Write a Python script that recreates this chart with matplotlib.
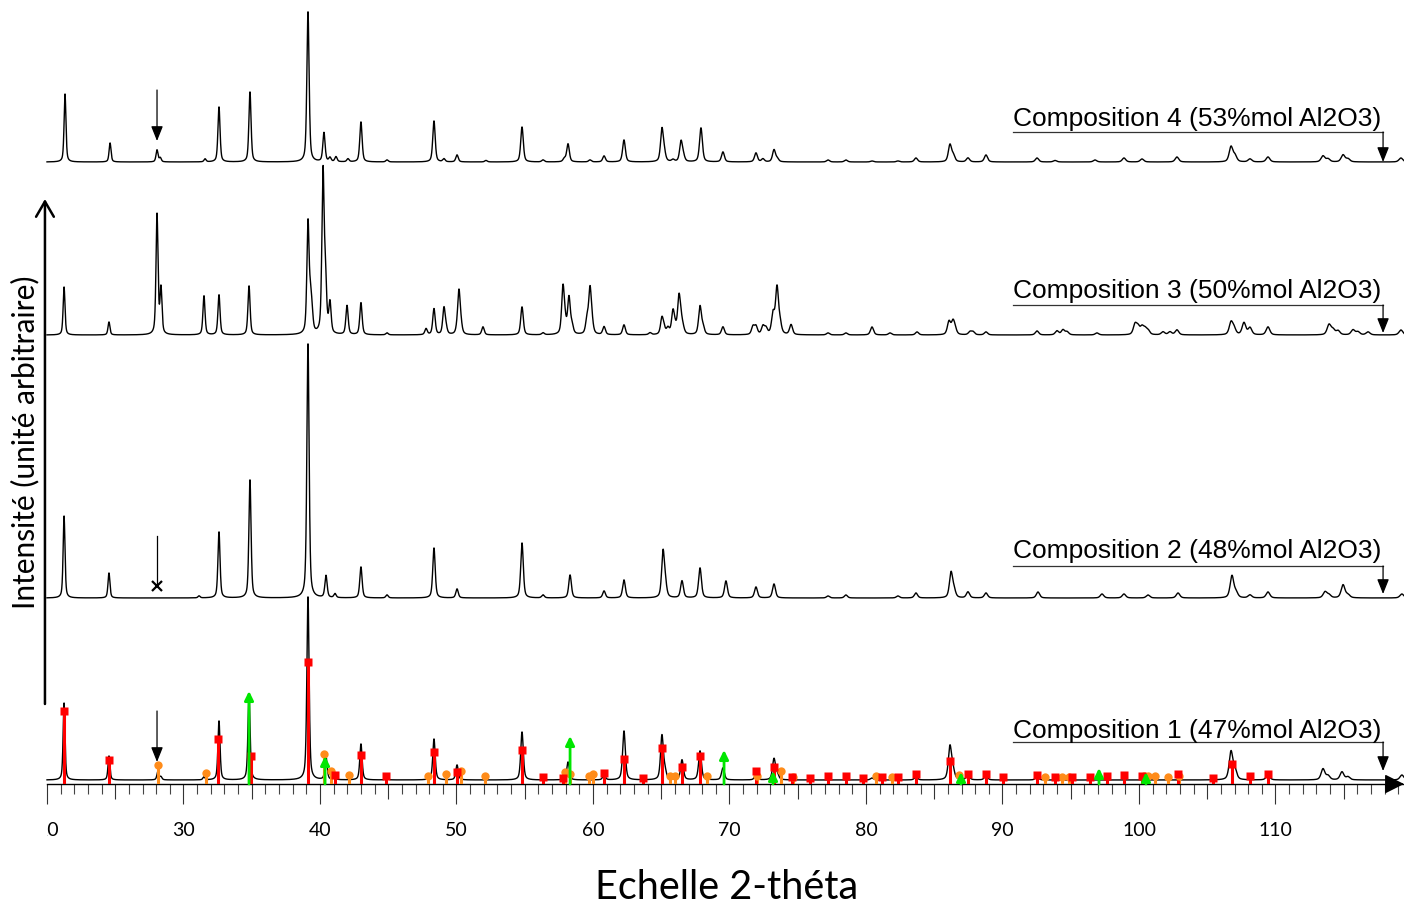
import numpy as np
import matplotlib
matplotlib.use("Agg")
import matplotlib.pyplot as plt
from matplotlib.ticker import MultipleLocator
from matplotlib.transforms import Bbox, TransformedBbox

c1_theta = [21.25, 24.54, 28.13, 28.35, 31.50, 32.60, 34.80, 39.12, 40.44, 41.10,
            43.00, 44.91, 48.35, 50.04, 54.80, 58.17, 60.81, 62.27, 65.05, 65.27,
            66.52, 67.84, 69.52, 71.94, 73.26, 73.50, 80.44, 83.66, 86.15, 86.37,
            87.47, 88.79, 92.53, 106.74, 107.03, 109.45, 113.48, 113.85, 114.87,
            115.31, 119.26]
c1_height = [77, 24, 9, 3, 3, 59, 86, 183, 23, 3,
             36, 2, 41, 15, 48, 18, 5, 49, 44, 8,
             20, 29, 12, 5, 21, 5, 2, 3, 33, 9,
             5, 4, 3, 28, 9, 5, 11, 4, 8,
             3, 5]

c2_theta = [21.25, 24.54, 31.14, 32.60, 34.87, 39.12, 40.44, 41.10, 43.00, 44.91,
            48.35, 50.04, 54.80, 56.34, 58.32, 60.81, 62.27, 65.13, 65.30, 66.52,
            67.84, 69.74, 71.94, 73.26, 77.22, 78.53, 82.34, 83.66, 86.23, 86.45,
            87.47, 88.79, 92.60, 97.29, 98.90, 100.66, 102.86, 106.81, 107.11,
            108.13, 109.45, 113.63, 113.92, 114.95, 115.31, 119.26]
c2_height = [82, 25, 2, 66, 118, 254, 22, 4, 31, 3,
             50, 9, 55, 3, 23, 7, 18, 45, 12, 17,
             30, 17, 11, 14, 2, 3, 2, 5, 25, 7,
             6, 5, 6, 4, 4, 3, 5, 22, 5,
             3, 6, 6, 3, 13, 3, 4]

c3_theta = [21.25, 24.54, 28.06, 28.35, 31.50, 32.60, 34.80, 39.12, 39.30, 39.41,
            40.22, 40.40, 40.73, 41.98, 43.00, 44.91, 47.77, 48.35, 49.08, 49.23,
            50.04, 50.18, 50.33, 51.94, 54.80, 56.34, 57.80, 57.95, 58.24, 58.46,
            59.56, 59.78, 59.93, 60.81, 62.27, 64.18, 65.05, 65.20, 65.49, 65.86,
            66.01, 66.30, 66.45, 66.59, 67.84, 68.06, 69.52, 71.72, 71.94, 72.45,
            72.67, 73.19, 73.48, 73.70, 74.51, 77.22, 78.53, 80.44, 81.76, 83.74,
            86.08, 86.37, 86.52, 87.62, 87.84, 88.79, 92.53, 93.99, 94.43, 94.73,
            96.92, 99.71, 99.93, 100.22, 100.44, 100.66, 101.76, 102.27, 102.78,
            106.74, 106.96, 107.69, 108.13, 109.45, 113.92, 114.21, 114.58,
            115.68, 116.04, 116.78, 119.19]
c3_height = [48, 13, 120, 45, 39, 40, 49, 110, 28, 16,
             160, 50, 30, 29, 32, 2, 6, 26, 26, 6,
             4, 42, 8, 8, 28, 2, 46, 10, 36, 8,
             14, 44, 9, 8, 10, 2, 16, 5, 6, 22,
             5, 36, 10, 5, 28, 7, 8, 8, 8, 8,
             6, 20, 46, 10, 10, 2, 2, 8, 2, 3,
             13, 12, 5, 3, 3, 3, 4, 4, 5, 3,
             2, 10, 7, 7, 5, 4, 3, 3, 5,
             12, 6, 12, 7, 8, 10, 5, 4,
             5, 3, 3, 5]

c4_theta = [21.32, 24.62, 28.06, 28.30, 31.58, 32.60, 34.87, 39.12, 40.29, 40.73,
            41.17, 42.05, 43.00, 44.91, 48.35, 49.08, 50.04, 52.16, 54.80, 56.34,
            57.90, 58.17, 59.78, 60.81, 62.27, 65.05, 65.22, 65.86, 66.45, 66.62,
            67.91, 69.52, 71.94, 72.45, 73.26, 73.50, 77.22, 78.53, 80.44, 82.34,
            83.66, 86.15, 86.40, 87.47, 88.79, 92.53, 93.85, 96.78, 98.90, 100.22,
            102.78, 106.74, 107.03, 108.13, 109.45, 113.48, 113.85, 114.95, 115.31,
            119.19]
c4_height = [68, 19, 12, 4, 3, 55, 70, 150, 29, 4,
             5, 3, 40, 2, 41, 3, 7, 1.5, 35, 2,
             3, 18, 2, 6, 22, 32, 8, 2, 20, 5,
             34, 10, 9, 3, 12, 3, 2, 2, 1, 1,
             4, 17, 6, 4, 7, 4, 1.5, 2, 4, 3,
             5, 15, 6, 3, 5, 6, 3, 7, 3,
             4]

offsets = [4, 186, 449, 622]
labels = ['Composition 1 (47%mol Al2O3)', 'Composition 2 (48%mol Al2O3)',
          'Composition 3 (50%mol Al2O3)', 'Composition 4 (53%mol Al2O3)']

# reference lines drawn under composition 1
red_theta = [21.25, 24.54, 32.55, 34.95, 39.12, 41.07, 43.00, 44.84, 48.35, 50.04,
             54.80, 56.34, 57.80, 60.81, 62.27, 63.66, 65.05, 66.52, 67.84, 71.94,
             73.26, 74.58, 75.90, 77.22, 78.53, 79.78, 81.17, 82.34, 83.66, 86.15,
             87.47, 88.79, 90.04, 92.53, 93.85, 95.09, 96.41, 97.66, 98.90, 100.22,
             102.86, 105.42, 106.81, 108.13, 109.45]
red_y = [73, 24, 45, 28, 122, 9, 29, 8, 32, 12,
         34, 7, 6, 11, 25, 6, 36, 17, 28, 13,
         17, 7, 6, 8, 8, 6, 7, 7, 10, 23,
         10, 10, 7, 9, 7, 7, 7, 8, 9, 8,
         10, 6, 20, 8, 10]
orange_theta = [28.13, 31.65, 40.29, 40.81, 42.12, 47.91, 49.23, 50.33, 52.09, 57.95,
                58.32, 59.71, 60.00, 65.64, 66.01, 68.35, 72.01, 73.77, 74.65, 80.73,
                81.90, 86.81, 93.11, 94.36, 94.87, 100.37, 100.66, 101.17, 102.12,
                102.93]
orange_y = [19, 11, 30, 13, 9, 8, 10, 13, 8, 12,
            10, 8, 10, 8, 8, 8, 8, 13, 7, 8,
            7, 9, 7, 7, 7, 8, 8, 8, 7,
            8]
green_theta = [34.80, 40.37, 58.32, 69.60, 73.19, 86.96, 97.07, 100.51]
green_y = [93, 28, 48, 34, 13, 12, 16, 12]


def pattern(theta, height, x):
    y = np.zeros_like(x)
    for p, h in zip(theta, height):
        w = 0.08 + 0.0009 * (p - 20)
        lor = w ** 2 / ((x - p) ** 2 + w ** 2)
        gau = np.exp(-np.log(2) * ((x - p) / w) ** 2)
        y += h * (0.5 * lor + 0.5 * gau)
    return y


xmax = 20 + 1357 / 13.65
x = np.arange(20, xmax, 0.01)

fig = plt.figure(figsize=(14.04, 9.04), dpi=100)
ax = fig.add_axes([47 / 1404, 119 / 904, 1357 / 1404, 785 / 904])
ax.set_xlim(20, xmax)
ax.set_ylim(0, 785)

sets = [(c1_theta, c1_height), (c2_theta, c2_height),
        (c3_theta, c3_height), (c4_theta, c4_height)]
for (th, hg), off in zip(sets, offsets):
    ax.plot(x, off + pattern(th, hg, x), color='black', lw=1.0, clip_on=False, zorder=2)

# sticks
ax.vlines(orange_theta, 0, orange_y, color='#ff8c1a', lw=2.2, zorder=3)
ax.plot(orange_theta, orange_y, 'o', color='#ff8c1a', ms=6, mec='none', zorder=4)
ax.vlines(red_theta, 0, red_y, color='#ff0000', lw=2.2, zorder=3)
ax.plot(red_theta, red_y, 's', color='#ff0000', ms=6, mec='none', zorder=4)
for t, g in zip(green_theta, green_y):
    ax.annotate('', xy=(t, g), xytext=(t, 0),
                arrowprops=dict(arrowstyle='-|>,head_length=0.45,head_width=0.22',
                                color='#00e600', lw=2.0, mutation_scale=12,
                                shrinkA=0, shrinkB=0), zorder=5)

# labels with underline + arrow
lab_x0, lab_x1 = 90.77, 117.88
lab_base = [47, 227, 487, 659]
lab_line = [42, 218, 479, 652]
lab_tip = [13, 190, 451, 622]
for txt, b, l, tp in zip(labels, lab_base, lab_line, lab_tip):
    ax.text(lab_x0, b, txt, fontsize=19.0, family='Liberation Sans', va='baseline',
            ha='left', color='black')
    ax.plot([lab_x0, lab_x1], [l, l], color='#333333', lw=0.9)
    ax.annotate('', xy=(lab_x1, tp), xytext=(lab_x1, l),
                arrowprops=dict(arrowstyle='-|>,head_length=0.45,head_width=0.18',
                                color='black', lw=0.9, mutation_scale=20,
                                shrinkA=0, shrinkB=0))

# arrows at 28 deg
for y0, y1 in [(694, 643), (73, 22)]:
    ax.annotate('', xy=(28.06, y1), xytext=(28.06, y0),
                arrowprops=dict(arrowstyle='-|>,head_length=0.45,head_width=0.18',
                                color='black', lw=0.9, mutation_scale=20,
                                shrinkA=0, shrinkB=0))
ax.plot([28.06, 28.06], [248, 199], color='black', lw=0.9)
ax.plot([28.06], [198], 'x', color='black', ms=7, mew=1.6)

# y arrow
ax.annotate('', xy=(19.85, 585), xytext=(19.85, 80),
            arrowprops=dict(arrowstyle='->,head_length=0.55,head_width=0.32',
                            color='black', lw=1.8, mutation_scale=20,
                            shrinkA=0, shrinkB=0), annotation_clip=False)
# x arrow head
ax.annotate('', xy=(xmax, 0), xytext=(xmax - 1.2, 0),
            arrowprops=dict(arrowstyle='-|>,head_length=0.6,head_width=0.3',
                            color='black', lw=1.0, mutation_scale=20,
                            shrinkA=0, shrinkB=0), annotation_clip=False)

for s in ['left', 'right', 'top']:
    ax.spines[s].set_visible(False)
ax.spines['bottom'].set_linewidth(1.0)
ax.set_yticks([])

major = np.arange(20, 120, 5)
ax.set_xticks(major, labels=[str(int(t)) if t % 10 == 0 else '' for t in major])
ax.xaxis.set_minor_locator(MultipleLocator(1))
ax.tick_params(axis='x', which='major', direction='out', length=14.4, width=0.8,
               color='#333333', pad=12, labelsize=14)
ax.tick_params(axis='x', which='minor', direction='out', length=7.2, width=0.8,
               color='#444444')
for t, tk in zip(major, ax.xaxis.get_major_ticks()):
    if t % 10:
        tk.tick1line.set_markersize(10.8)
    tk.label1.set_family('Lato')
bb = TransformedBbox(Bbox([[47 / 1404, 0], [1, 1]]), fig.transFigure)
first = ax.xaxis.get_major_ticks()[0].label1
first.set_clip_box(bb)
first.set_clip_on(True)

fig.text(25 / 1404, 1 - 442 / 904, 'Intensité (unité arbitraire)', rotation=90,
         ha='center', va='center', fontsize=21.5, family='Lato')
fig.text(727 / 1404, 1 - 899 / 904, 'Echelle 2-théta', ha='center', va='baseline',
         fontsize=28.5, family='Lato')

fig.savefig('out.png', dpi=100)
